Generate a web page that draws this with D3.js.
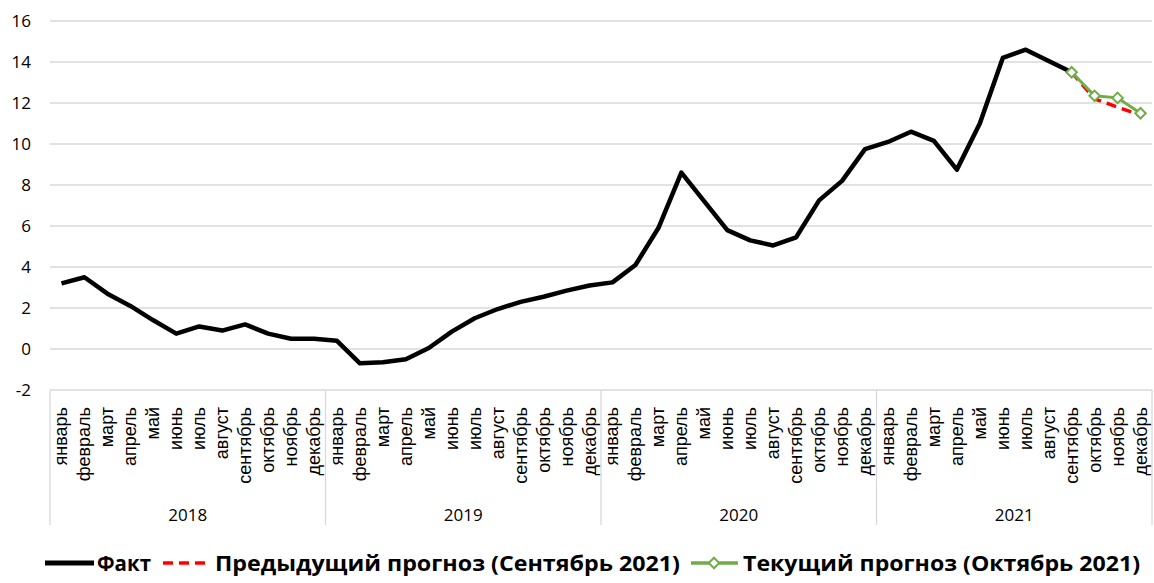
<!DOCTYPE html>
<html>
<head>
<meta charset="utf-8">
<script src="https://cdn.jsdelivr.net/npm/d3@7"></script>
<style>
  body { margin: 0; background: #fff; }
  svg { font-family: "Open Sans", sans-serif; }
</style>
</head>
<body>
<div id="chart"></div>
<script>
// Categories
var years = ["2018", "2019", "2020", "2021"];
var months = ["январь", "февраль", "март", "апрель", "май", "июнь", "июль", "август", "сентябрь", "октябрь", "ноябрь", "декабрь"];
var yTicks = [-2, 0, 2, 4, 6, 8, 10, 12, 14, 16];

// Факт (январь 2018 - сентябрь 2021)
var fact = [3.2, 3.5, 2.7, 2.1, 1.4, 0.75, 1.1, 0.9, 1.2, 0.75, 0.5, 0.5,
            0.4, -0.7, -0.65, -0.5, 0.05, 0.85, 1.5, 1.95, 2.3, 2.55, 2.85, 3.1,
            3.25, 4.1, 5.9, 8.6, 7.2, 5.8, 5.3, 5.05, 5.45, 7.25, 8.2, 9.75,
            10.1, 10.6, 10.15, 8.75, 11.0, 14.2, 14.6, 14.05, 13.5];
// прогнозы (сентябрь - декабрь 2021)
var prevForecast = [13.5, 12.2, 11.8, 11.4];
var curForecast = [13.5, 12.35, 12.25, 11.5];

var width = 1154, height = 583;
var mLeft = 50, mRight = 1152, mTop = 21, mBottom = 390;

var cats = [];
years.forEach(function (yr) {
  months.forEach(function (m) { cats.push(yr + "-" + m) });
});

var xScale = d3.scaleBand().domain(cats).range([mLeft, mRight]);
var yScale = d3.scaleLinear().domain([-2, 16]).range([mBottom, mTop]);
var cx = function (i) { return xScale(cats[i]) + xScale.bandwidth() / 2 };

var svg = d3.select("#chart").append("svg")
  .attr("width", width)
  .attr("height", height);

// grid
svg.append("g").selectAll("line")
  .data(yTicks)
  .enter().append("line")
  .attr("x1", mLeft).attr("x2", mRight)
  .attr("y1", function (d) { return yScale(d) })
  .attr("y2", function (d) { return yScale(d) })
  .attr("stroke", "#d9d9d9")
  .attr("stroke-width", 1.3);

// y labels
svg.append("g").selectAll("text")
  .data(yTicks)
  .enter().append("text")
  .attr("x", 31)
  .attr("y", function (d) { return yScale(d) })
  .attr("dy", "0.35em")
  .attr("text-anchor", "end")
  .attr("font-size", 17)
  .attr("fill", "#000")
  .text(function (d) { return d });

// year separators
var seps = d3.range(0, years.length + 1).map(function (i) { return mLeft + i * 12 * xScale.bandwidth() });
svg.append("g").selectAll("line")
  .data(seps)
  .enter().append("line")
  .attr("x1", function (d) { return d }).attr("x2", function (d) { return d })
  .attr("y1", mBottom).attr("y2", 525)
  .attr("stroke", "#d9d9d9")
  .attr("stroke-width", 1.3);

// month labels
svg.append("g").selectAll("text")
  .data(cats)
  .enter().append("text")
  .attr("transform", function (d, i) { return "translate(" + (cx(i) + 6) + ",407) rotate(-90)" })
  .attr("text-anchor", "end")
  .attr("font-family", "'Liberation Sans', Arial, sans-serif")
  .attr("font-size", 18)
  .text(function (d) { return d.split("-")[1] });

// year labels
svg.append("g").selectAll("text")
  .data(years)
  .enter().append("text")
  .attr("x", function (d, i) { return (seps[i] + seps[i + 1]) / 2 })
  .attr("y", 521)
  .attr("text-anchor", "middle")
  .attr("font-size", 17)
  .text(function (d) { return d });

var line = d3.line()
  .x(function (d) { return cx(d.i) })
  .y(function (d) { return yScale(d.v) });

var factPts = fact.map(function (v, i) { return { i: i, v: v } });
var prevPts = prevForecast.map(function (v, i) { return { i: 44 + i, v: v } });
var curPts = curForecast.map(function (v, i) { return { i: 44 + i, v: v } });

svg.append("path")
  .datum(factPts)
  .attr("d", line)
  .attr("fill", "none")
  .attr("stroke", "#000")
  .attr("stroke-width", 4.5)
  .attr("stroke-linejoin", "round");

svg.append("path")
  .datum(prevPts)
  .attr("d", line)
  .attr("fill", "none")
  .attr("stroke", "#ff0000")
  .attr("stroke-width", 3.5)
  .attr("stroke-dasharray", "10,6");

svg.append("path")
  .datum(curPts)
  .attr("d", line)
  .attr("fill", "none")
  .attr("stroke", "#70ad47")
  .attr("stroke-width", 3);

var diamond = d3.symbol().type(d3.symbolDiamond2).size(70);
svg.append("g").selectAll("path")
  .data(curPts)
  .enter().append("path")
  .attr("d", diamond)
  .attr("transform", function (d) { return "translate(" + cx(d.i) + "," + yScale(d.v) + ")" })
  .attr("fill", "#fff")
  .attr("stroke", "#70ad47")
  .attr("stroke-width", 2);

// legend
var ly = 563;
var lg = svg.append("g").attr("font-size", 22).attr("font-weight", "bold");
lg.append("line").attr("x1", 45).attr("x2", 94).attr("y1", ly).attr("y2", ly)
  .attr("stroke", "#000").attr("stroke-width", 5);
lg.append("text").attr("x", 97).attr("y", ly).attr("dy", "0.35em")
  .attr("textLength", 54).attr("lengthAdjust", "spacingAndGlyphs").text("Факт");
lg.append("line").attr("x1", 163).attr("x2", 207).attr("y1", ly).attr("y2", ly)
  .attr("stroke", "#ff0000").attr("stroke-width", 3.5).attr("stroke-dasharray", "10,6");
lg.append("text").attr("x", 215).attr("y", ly).attr("dy", "0.35em")
  .attr("textLength", 465).attr("lengthAdjust", "spacingAndGlyphs").text("Предыдущий прогноз (Сентябрь 2021)");
lg.append("line").attr("x1", 691).attr("x2", 738).attr("y1", ly).attr("y2", ly)
  .attr("stroke", "#70ad47").attr("stroke-width", 3.5);
lg.append("path").attr("d", diamond)
  .attr("transform", "translate(714," + ly + ")")
  .attr("fill", "#fff").attr("stroke", "#70ad47").attr("stroke-width", 2);
lg.append("text").attr("x", 743).attr("y", ly).attr("dy", "0.35em")
  .attr("textLength", 397).attr("lengthAdjust", "spacingAndGlyphs").text("Текущий прогноз (Октябрь 2021)");
</script>
</body>
</html>
